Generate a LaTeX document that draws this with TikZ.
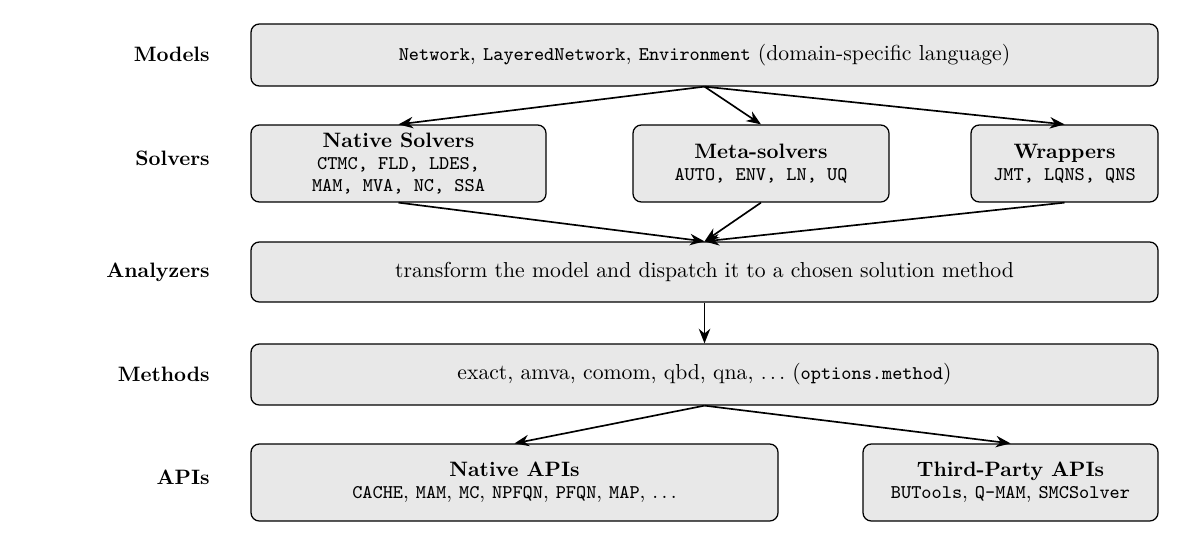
\documentclass[tikz,border=0pt]{standalone}
\usetikzlibrary{arrows.meta}
\newcommand\bodyfs{\fontsize{10.4}{12.5}\selectfont}
\newcommand\ttfs{\fontsize{9.3}{10.8}\selectfont\ttfamily}
\begin{document}
\begin{tikzpicture}[x=0.48pt,y=-0.48pt,
  box/.style={draw=black,line width=0.6pt,fill=black!9,rounded corners=4pt,align=center,inner sep=0pt},
  lbl/.style={anchor=east,font=\bfseries,inner sep=0pt},
  arr/.style={-{Stealth[length=7pt,width=5.5pt]},line width=0.8pt}]
\useasboundingbox (0,0) rectangle (1195,546);
% row labels
\node[lbl] (lm) at (210,54) {Models};
\node[lbl] (ls) at (210,158) {Solvers};
\node[lbl] (la) at (210,272) {Analyzers};
\node[lbl] (lme) at (210,374) {Methods};
\node[lbl] (lap) at (210,477) {APIs};
% boxes
\node[box,minimum width=907*0.48pt,minimum height=62*0.48pt] (models) at (704.5,55)
  {\bodyfs{\ttfs Network}, {\ttfs LayeredNetwork}, {\ttfs Environment} (domain-specific language)};
\node[box,minimum width=295*0.48pt,minimum height=77*0.48pt] (native) at (398.5,163.5)
  {{\bfseries Native Solvers}\\[-1.5pt]{\ttfs CTMC, FLD, LDES,}\\[-1.3pt]{\ttfs MAM, MVA, NC, SSA}};
\node[box,minimum width=256*0.48pt,minimum height=77*0.48pt] (meta) at (761,163.5)
  {{\bfseries Meta-solvers}\\[-1.5pt]{\ttfs AUTO, ENV, LN, UQ}};
\node[box,minimum width=187*0.48pt,minimum height=77*0.48pt] (wrap) at (1064.5,163.5)
  {{\bfseries Wrappers}\\[-1.5pt]{\ttfs JMT, LQNS, QNS}};
\node[box,minimum width=907*0.48pt,minimum height=60*0.48pt] (anal) at (704.5,272)
  {\bodyfs transform the model and dispatch it to a chosen solution method};
\node[box,minimum width=907*0.48pt,minimum height=61*0.48pt] (meth) at (704.5,374.5)
  {\bodyfs exact, amva, comom, qbd, qna, $\ldots$\ ({\ttfs options.method})};
\node[box,minimum width=527*0.48pt,minimum height=77*0.48pt] (napi) at (514.5,482.5)
  {{\bfseries Native APIs}\\[-1.5pt]{\ttfs CACHE}, {\ttfs MAM}, {\ttfs MC}, {\ttfs NPFQN}, {\ttfs PFQN}, {\ttfs MAP}, $\ldots$};
\node[box,minimum width=295*0.48pt,minimum height=77*0.48pt] (tapi) at (1010.5,482.5)
  {{\bfseries Third-Party APIs}\\[-1.5pt]{\ttfs BUTools}, {\ttfs Q-MAM}, {\ttfs SMCSolver}};
% arrows
\draw[arr] (models.south) -- (native.north);
\draw[arr] (models.south) -- (meta.north);
\draw[arr] (models.south) -- (wrap.north);
\draw[arr] (native.south) -- (anal.north);
\draw[arr] (meta.south) -- (anal.north);
\draw[arr] (wrap.south) -- (anal.north);
\draw[arr] (anal.south) -- (meth.north);
\draw[arr] (meth.south) -- (napi.north);
\draw[arr] (meth.south) -- (tapi.north);
\end{tikzpicture}
\end{document}
